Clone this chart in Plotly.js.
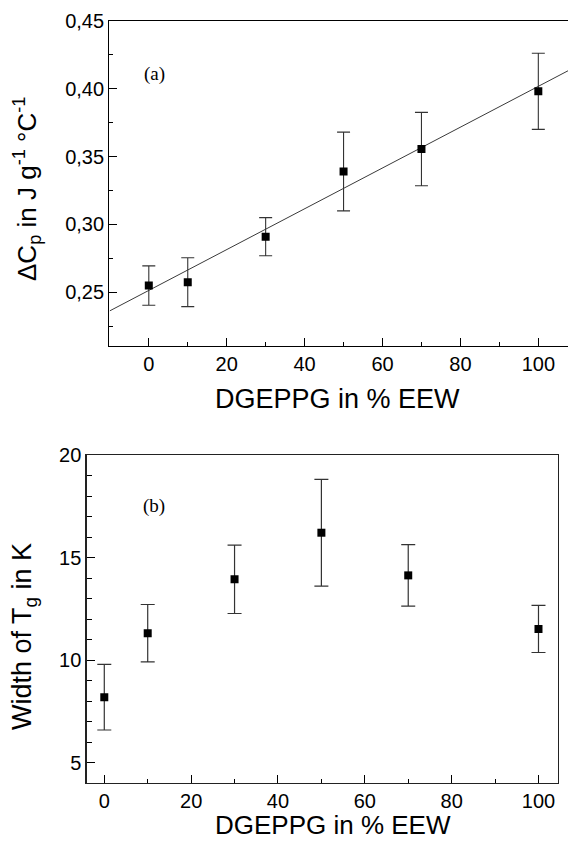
<!DOCTYPE html>
<html>
<head>
<meta charset="utf-8">
<script src="https://cdn.plot.ly/plotly-3.0.1.min.js"></script>
<style>html,body{margin:0;padding:0;background:#fff;}#chart{width:568px;height:841px;}</style>
</head>
<body>
<div id="chart"></div>
<script>
// ---- data ----
var dgeppg = [0, 10, 30, 50, 70, 100];            // DGEPPG in % EEW
var deltaCp = [0.255, 0.2575, 0.291, 0.339, 0.3555, 0.398];   // ΔCp in J g-1 °C-1
var deltaCpErr = [0.0145, 0.018, 0.014, 0.029, 0.027, 0.028];
var fitX = [-10, 110];                            // linear fit end points
var fitY = [0.2364, 0.4167];
var tgWidth = [8.19, 11.31, 13.94, 16.21, 14.13, 11.52]; // width of Tg in K
var tgWidthErr = [1.6, 1.4, 1.67, 2.6, 1.5, 1.15];

var W = 568, H = 841;
function px(x){ return x / W; }
function py(y){ return 1 - y / H; }

var FONT = '"Liberation Sans", Arial, Helvetica, sans-serif';
var SERIF = '"Liberation Serif", "Times New Roman", serif';

var traces = [
  { x: fitX, y: fitY, xaxis: 'x', yaxis: 'y', mode: 'lines',
    line: { color: '#3a3a3a', width: 1 }, hoverinfo: 'skip', showlegend: false },
  { x: dgeppg, y: deltaCp, xaxis: 'x', yaxis: 'y', mode: 'markers',
    marker: { symbol: 'square', size: 8, color: '#000' },
    error_y: { type: 'data', array: deltaCpErr, visible: true, color: '#333', thickness: 1.1, width: 6.5 },
    showlegend: false },
  { x: dgeppg, y: tgWidth, xaxis: 'x2', yaxis: 'y2', mode: 'markers',
    marker: { symbol: 'square', size: 8, color: '#000' },
    error_y: { type: 'data', array: tgWidthErr, visible: true, color: '#333', thickness: 1.2, width: 7 },
    showlegend: false }
];

var axCommon = {
  showgrid: false, zeroline: false, showline: true, linecolor: '#000', linewidth: 1.2,
  ticks: 'inside', ticklen: 8, tickwidth: 1, tickcolor: '#000',
  tickfont: { family: FONT, size: 20, color: '#000' }
};
function ax(extra){ return Object.assign({}, axCommon, extra); }

var layout = {
  width: W, height: H,
  margin: { l: 0, r: 0, t: 0, b: 0 },
  paper_bgcolor: '#fff', plot_bgcolor: '#fff',
  separators: ', ',
  showlegend: false,
  xaxis: ax({ domain: [px(109.3), 1], range: [-10.14, 107.62], anchor: 'y',
    tickvals: [0, 20, 40, 60, 80, 100], mirror: true,
    minor: { dtick: 10, tick0: 0, ticks: 'inside', ticklen: 4, tickcolor: '#000' } }),
  yaxis: ax({ domain: [py(346), py(20.7)], range: [0.2105, 0.45], anchor: 'x',
    tickvals: [0.25, 0.30, 0.35, 0.40, 0.45], tickformat: '.2f', mirror: false,
    minor: { dtick: 0.025, tick0: 0, ticks: 'inside', ticklen: 4, tickcolor: '#000' } }),
  xaxis2: ax({ domain: [px(86.7), px(557.6)], range: [-4.05, 104.4], anchor: 'y2',
    tickvals: [0, 20, 40, 60, 80, 100], mirror: true, linecolor: '#222', linewidth: 1.4,
    minor: { dtick: 10, tick0: 0, ticks: 'inside', ticklen: 4, tickcolor: '#000' } }),
  yaxis2: ax({ domain: [py(782.7), py(455)], range: [4.02, 20], anchor: 'x2',
    tickvals: [5, 10, 15, 20], mirror: true, linecolor: '#222', linewidth: 1.4,
    minor: { dtick: 1, tick0: 0, ticks: 'inside', ticklen: 5, tickcolor: '#000' } }),
  annotations: [
    { text: 'DGEPPG in % EEW', xref: 'paper', yref: 'paper', x: px(337), y: py(399),
      xanchor: 'center', yanchor: 'middle', showarrow: false,
      font: { family: FONT, size: 27, color: '#000' } },
    { text: 'ΔC<sub>p</sub> in J g<sup>-1</sup> °C<sup>-1</sup>', xref: 'paper', yref: 'paper',
      x: px(27), y: py(189), xanchor: 'center', yanchor: 'middle', textangle: -90, showarrow: false,
      font: { family: FONT, size: 26, color: '#000' } },
    { text: '(a)', xref: 'paper', yref: 'paper', x: px(154), y: py(74),
      xanchor: 'center', yanchor: 'middle', showarrow: false,
      font: { family: SERIF, size: 19, color: '#000' } },
    { text: 'DGEPPG in % EEW', xref: 'paper', yref: 'paper', x: px(333), y: 0,
      xanchor: 'center', yanchor: 'bottom', showarrow: false, borderpad: 0,
      font: { family: FONT, size: 26, color: '#000' } },
    { text: 'Width of T<sub>g</sub> in K', xref: 'paper', yref: 'paper',
      x: px(24), y: py(637), xanchor: 'center', yanchor: 'middle', textangle: -90, showarrow: false,
      font: { family: FONT, size: 27, color: '#000' } },
    { text: '(b)', xref: 'paper', yref: 'paper', x: px(154), y: py(505.5),
      xanchor: 'center', yanchor: 'middle', showarrow: false,
      font: { family: SERIF, size: 19, color: '#000' } }
  ]
};

Plotly.newPlot('chart', traces, layout, { staticPlot: true, displayModeBar: false });
</script>
</body>
</html>
